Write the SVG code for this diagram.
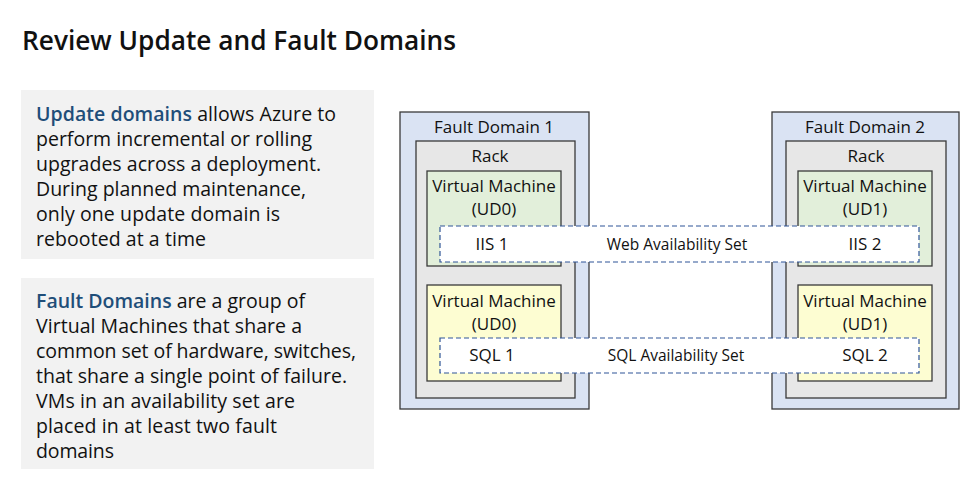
<svg xmlns="http://www.w3.org/2000/svg" width="972" height="482" viewBox="0 0 972 482">
<style>
text{font-family:"Open Sans","Noto Sans","Liberation Sans",sans-serif;fill:#111}
.title{font-size:27px;font-weight:600}
.p{font-size:19.5px}
.hl{fill:#1f4e79;font-weight:600}
.panel{fill:#f2f2f2}
.fd{fill:#dae3f3;stroke:#3a3a3a;stroke-width:1.3}
.rack{fill:#e7e7e7;stroke:#3a3a3a;stroke-width:1.3}
.vmg{fill:#e2efda;stroke:#3a3a3a;stroke-width:1.3}
.vmy{fill:#fdfdd2;stroke:#3a3a3a;stroke-width:1.3}
.set{fill:#ffffff;stroke:#2f5597;stroke-width:1.2;stroke-dasharray:5 3}
.lbl{font-size:17px;text-anchor:middle}
.sl{font-size:15.5px;text-anchor:middle}
</style>
<rect width="972" height="482" fill="#ffffff"/>
<text class="title" x="22" y="50" textLength="434" lengthAdjust="spacingAndGlyphs">Review Update and Fault Domains</text>

<g id="update-domains-panel">
<rect class="panel" x="21" y="90" width="353" height="169"/>
<text class="p" x="36" y="121" textLength="300"><tspan class="hl">Update domains</tspan> allows Azure to</text>
<text class="p" x="36" y="146" textLength="276">perform incremental or rolling</text>
<text class="p" x="36" y="171" textLength="285">upgrades across a deployment.</text>
<text class="p" x="36" y="196" textLength="270">During planned maintenance,</text>
<text class="p" x="36" y="221" textLength="244">only one update domain is</text>
<text class="p" x="36" y="246" textLength="170">rebooted at a time</text>
</g>

<g id="fault-domains-panel">
<rect class="panel" x="21" y="278" width="353" height="191"/>
<text class="p" x="36" y="308" textLength="269"><tspan class="hl">Fault Domains</tspan> are a group of</text>
<text class="p" x="36" y="333" textLength="266">Virtual Machines that share a</text>
<text class="p" x="36" y="358" textLength="320">common set of hardware, switches,</text>
<text class="p" x="36" y="383" textLength="311">that share a single point of failure.</text>
<text class="p" x="36" y="408" textLength="259">VMs in an availability set are</text>
<text class="p" x="36" y="433" textLength="241">placed in at least two fault</text>
<text class="p" x="36" y="458" textLength="78">domains</text>
</g>

<g id="fault-domain-1">
<rect class="fd" x="400" y="112" width="189" height="297"/>
<text class="lbl" x="494" y="133">Fault Domain 1</text>
<g id="rack-1">
<rect class="rack" x="416" y="141" width="159" height="257"/>
<text class="lbl" x="490" y="162">Rack</text>
</g>
<g id="vm-ud0-web">
<rect class="vmg" x="427" y="171" width="134" height="95"/>
<text class="lbl" x="494" y="192">Virtual Machine</text>
<text class="lbl" x="494" y="215">(UD0)</text>
</g>
<g id="vm-ud0-sql">
<rect class="vmy" x="427" y="285" width="134" height="96"/>
<text class="lbl" x="494" y="307">Virtual Machine</text>
<text class="lbl" x="494" y="330">(UD0)</text>
</g>
</g>

<g id="fault-domain-2">
<rect class="fd" x="772" y="112" width="187" height="297"/>
<text class="lbl" x="865" y="133">Fault Domain 2</text>
<g id="rack-2">
<rect class="rack" x="786" y="141" width="160" height="257"/>
<text class="lbl" x="866" y="162">Rack</text>
</g>
<g id="vm-ud1-web">
<rect class="vmg" x="798" y="171" width="134" height="95"/>
<text class="lbl" x="865" y="192">Virtual Machine</text>
<text class="lbl" x="865" y="215">(UD1)</text>
</g>
<g id="vm-ud1-sql">
<rect class="vmy" x="798" y="285" width="134" height="96"/>
<text class="lbl" x="865" y="307">Virtual Machine</text>
<text class="lbl" x="865" y="330">(UD1)</text>
</g>
</g>

<g id="web-availability-set">
<rect class="set" x="440" y="226" width="479" height="36"/>
<text class="lbl" x="492" y="250">IIS 1</text>
<text class="sl" x="677" y="250">Web Availability Set</text>
<text class="lbl" x="865" y="250">IIS 2</text>
</g>

<g id="sql-availability-set">
<rect class="set" x="440" y="338" width="479" height="35"/>
<text class="lbl" x="492" y="361">SQL 1</text>
<text class="sl" x="676" y="361">SQL Availability Set</text>
<text class="lbl" x="865" y="361">SQL 2</text>
</g>
</svg>
